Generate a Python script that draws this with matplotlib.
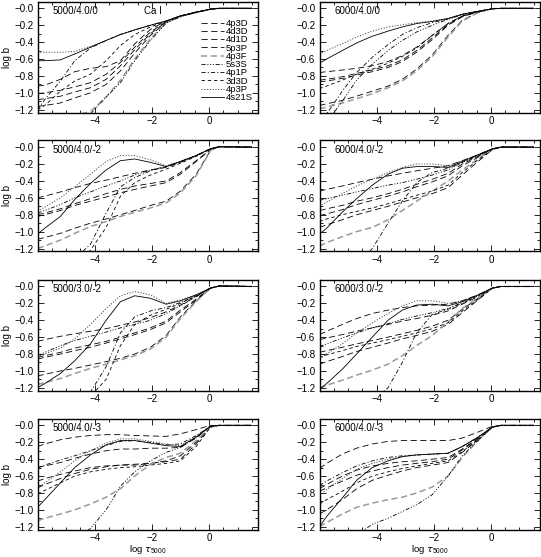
import numpy as np
import matplotlib
matplotlib.use("Agg")
import matplotlib.pyplot as plt
from matplotlib.ticker import MultipleLocator, FuncFormatter

plt.rcParams['font.family'] = ['Liberation Sans', 'DejaVu Sans']
plt.rcParams['mathtext.fontset'] = 'custom'
plt.rcParams['mathtext.rm'] = 'Liberation Sans'
plt.rcParams['mathtext.it'] = 'DejaVu Sans:italic'
plt.rcParams['lines.scale_dashes'] = False

# ── data: log b of Ca I levels vs log tau_5000 ─────────────────────────────
tau = [-6.0, -5.75, -5.2, -4.7, -4.15, -3.6, -3.1, -2.6, -2.05, -1.5, -1.0, -0.45, 0.05, 0.35, 1.5]

levels = ['4p3D', '4d3D', '4d1D', '5p3P', '4p3F', '5s3S', '4p1P', '3d3D', '4p3P', '4s21S']

# rows follow the order of `levels`
b_5000_40_0 = [
    [-0.92, -0.91, -0.84, -0.75, -0.71, -0.69, -0.62, -0.42, -0.25, -0.15, -0.09, -0.045, -0.01, 0, 0],
    [-1.01, -1.00, -0.97, -0.93, -0.88, -0.78, -0.64, -0.46, -0.28, -0.155, -0.09, -0.045, -0.01, 0, 0],
    [-1.08, -1.07, -1.04, -0.99, -0.94, -0.84, -0.68, -0.49, -0.30, -0.16, -0.09, -0.045, -0.01, 0, 0],
    [-1.16, -1.15, -1.12, -1.06, -1.00, -0.90, -0.74, -0.53, -0.32, -0.165, -0.095, -0.045, -0.01, 0, 0],
    [-1.50, -1.45, -1.35, -1.27, -1.22, -1.05, -0.85, -0.60, -0.36, -0.17, -0.095, -0.05, -0.01, 0, 0],
    [-1.80, -1.70, -1.55, -1.40, -1.25, -1.05, -0.88, -0.62, -0.38, -0.175, -0.10, -0.05, -0.01, 0, 0],
    [-1.20, -1.08, -0.86, -0.62, -0.47, -0.38, -0.31, -0.255, -0.20, -0.15, -0.09, -0.045, -0.01, 0, 0],
    [-1.20, -1.15, -0.98, -0.86, -0.78, -0.62, -0.44, -0.31, -0.22, -0.155, -0.09, -0.045, -0.01, 0, 0],
    [-0.52, -0.52, -0.52, -0.51, -0.45, -0.38, -0.31, -0.255, -0.20, -0.15, -0.09, -0.045, -0.01, 0, 0],
    [-0.62, -0.62, -0.61, -0.54, -0.46, -0.38, -0.31, -0.255, -0.20, -0.15, -0.09, -0.045, -0.01, 0, 0],
]

b_6000_40_0 = [
    [-0.76, -0.75, -0.73, -0.71, -0.68, -0.63, -0.56, -0.46, -0.32, -0.18, -0.09, -0.04, -0.005, 0, 0],
    [-0.85, -0.84, -0.81, -0.77, -0.73, -0.68, -0.61, -0.50, -0.35, -0.19, -0.095, -0.04, -0.005, 0, 0],
    [-0.87, -0.86, -0.83, -0.79, -0.75, -0.70, -0.63, -0.52, -0.37, -0.20, -0.10, -0.04, -0.005, 0, 0],
    [-1.15, -1.13, -1.09, -1.04, -0.98, -0.92, -0.84, -0.72, -0.55, -0.32, -0.14, -0.05, -0.005, 0, 0],
    [-1.19, -1.17, -1.12, -1.07, -1.01, -0.94, -0.86, -0.74, -0.57, -0.34, -0.15, -0.05, -0.005, 0, 0],
    [-1.50, -1.35, -1.10, -0.85, -0.66, -0.50, -0.38, -0.28, -0.20, -0.13, -0.075, -0.035, -0.005, 0, 0],
    [-1.40, -1.25, -0.98, -0.76, -0.58, -0.43, -0.31, -0.23, -0.17, -0.125, -0.07, -0.035, -0.005, 0, 0],
    [-0.95, -0.92, -0.85, -0.78, -0.72, -0.65, -0.57, -0.47, -0.32, -0.18, -0.09, -0.04, -0.005, 0, 0],
    [-0.54, -0.50, -0.42, -0.34, -0.27, -0.22, -0.195, -0.17, -0.15, -0.12, -0.07, -0.035, -0.005, 0, 0],
    [-0.65, -0.60, -0.50, -0.41, -0.33, -0.27, -0.22, -0.18, -0.155, -0.12, -0.07, -0.035, -0.005, 0, 0],
]

b_5000_40_m2 = [
    [-0.60, -0.58, -0.53, -0.48, -0.43, -0.39, -0.35, -0.31, -0.27, -0.24, -0.18, -0.10, -0.02, 0.005, 0],
    [-0.80, -0.78, -0.73, -0.67, -0.61, -0.55, -0.50, -0.46, -0.43, -0.40, -0.30, -0.16, -0.03, 0.005, 0],
    [-0.82, -0.80, -0.75, -0.69, -0.64, -0.59, -0.54, -0.50, -0.46, -0.42, -0.32, -0.17, -0.03, 0.005, 0],
    [-1.09, -1.07, -1.02, -0.96, -0.90, -0.85, -0.80, -0.75, -0.69, -0.64, -0.52, -0.32, -0.04, 0.005, 0],
    [-1.20, -1.17, -1.10, -1.02, -0.94, -0.88, -0.82, -0.77, -0.72, -0.66, -0.54, -0.34, -0.04, 0.005, 0],
    [-0.78, -0.75, -0.68, -0.60, -0.53, -0.46, -0.40, -0.33, -0.27, -0.23, -0.17, -0.10, -0.02, 0.005, 0],
    [-1.80, -1.70, -1.50, -1.32, -1.15, -0.78, -0.47, -0.36, -0.28, -0.23, -0.17, -0.10, -0.02, 0.005, 0],
    [-1.90, -1.80, -1.60, -1.40, -1.22, -0.95, -0.58, -0.42, -0.33, -0.26, -0.19, -0.11, -0.02, 0.005, 0],
    [-0.76, -0.71, -0.60, -0.47, -0.32, -0.17, -0.10, -0.10, -0.15, -0.22, -0.17, -0.10, -0.02, 0.01, 0],
    [-1.03, -0.96, -0.82, -0.62, -0.43, -0.27, -0.16, -0.14, -0.18, -0.23, -0.17, -0.10, -0.02, 0.005, 0],
]

b_6000_40_m2 = [
    [-0.52, -0.50, -0.46, -0.42, -0.38, -0.34, -0.31, -0.28, -0.25, -0.22, -0.16, -0.09, -0.02, 0, 0],
    [-0.75, -0.73, -0.69, -0.64, -0.60, -0.55, -0.50, -0.44, -0.38, -0.31, -0.20, -0.11, -0.02, 0, 0],
    [-0.81, -0.79, -0.74, -0.68, -0.63, -0.58, -0.53, -0.47, -0.41, -0.34, -0.22, -0.12, -0.02, 0, 0],
    [-0.95, -0.92, -0.86, -0.80, -0.75, -0.70, -0.65, -0.60, -0.55, -0.48, -0.33, -0.17, -0.03, 0, 0],
    [-1.17, -1.13, -1.06, -1.00, -0.95, -0.86, -0.75, -0.64, -0.52, -0.40, -0.27, -0.14, -0.02, 0, 0],
    [-0.63, -0.61, -0.57, -0.53, -0.49, -0.45, -0.42, -0.38, -0.33, -0.27, -0.18, -0.10, -0.02, 0, 0],
    [-1.90, -1.80, -1.60, -1.40, -1.20, -0.90, -0.64, -0.42, -0.30, -0.25, -0.18, -0.10, -0.02, 0, 0],
    [-0.88, -0.85, -0.80, -0.76, -0.72, -0.67, -0.62, -0.57, -0.52, -0.45, -0.30, -0.15, -0.03, 0, 0],
    [-0.70, -0.65, -0.55, -0.46, -0.38, -0.30, -0.24, -0.20, -0.20, -0.22, -0.16, -0.09, -0.02, 0, 0],
    [-1.03, -0.96, -0.77, -0.61, -0.45, -0.32, -0.25, -0.23, -0.23, -0.24, -0.17, -0.09, -0.02, 0, 0],
]

b_5000_30_m2 = [
    [-0.65, -0.63, -0.59, -0.56, -0.53, -0.50, -0.46, -0.42, -0.37, -0.30, -0.22, -0.12, -0.02, 0.005, 0],
    [-0.84, -0.82, -0.78, -0.73, -0.69, -0.65, -0.60, -0.55, -0.49, -0.41, -0.28, -0.15, -0.02, 0.005, 0],
    [-0.86, -0.84, -0.80, -0.76, -0.72, -0.67, -0.62, -0.57, -0.51, -0.43, -0.30, -0.16, -0.02, 0.005, 0],
    [-1.06, -1.04, -1.00, -0.97, -0.93, -0.89, -0.85, -0.80, -0.72, -0.58, -0.36, -0.17, -0.02, 0.005, 0],
    [-1.16, -1.14, -1.09, -1.03, -0.97, -0.92, -0.87, -0.82, -0.74, -0.60, -0.38, -0.18, -0.02, 0.005, 0],
    [-0.82, -0.78, -0.70, -0.64, -0.59, -0.54, -0.49, -0.45, -0.40, -0.32, -0.23, -0.12, -0.02, 0.005, 0],
    [-1.90, -1.80, -1.60, -1.40, -1.25, -0.95, -0.55, -0.36, -0.29, -0.25, -0.19, -0.11, -0.02, 0.005, 0],
    [-2.00, -1.90, -1.70, -1.50, -1.30, -1.10, -0.70, -0.45, -0.34, -0.27, -0.20, -0.11, -0.02, 0.005, 0],
    [-0.83, -0.80, -0.73, -0.62, -0.45, -0.26, -0.11, -0.06, -0.10, -0.20, -0.16, -0.10, -0.02, 0.005, 0],
    [-1.20, -1.15, -1.03, -0.88, -0.68, -0.40, -0.18, -0.11, -0.14, -0.21, -0.17, -0.10, -0.02, 0.005, 0],
]

b_6000_30_m2 = [
    [-0.57, -0.53, -0.45, -0.38, -0.32, -0.28, -0.25, -0.23, -0.22, -0.21, -0.17, -0.10, -0.02, 0, 0],
    [-0.63, -0.61, -0.57, -0.53, -0.49, -0.45, -0.41, -0.38, -0.34, -0.29, -0.21, -0.12, -0.02, 0, 0],
    [-0.78, -0.76, -0.72, -0.68, -0.64, -0.60, -0.56, -0.52, -0.47, -0.40, -0.27, -0.14, -0.02, 0, 0],
    [-0.92, -0.89, -0.83, -0.77, -0.72, -0.67, -0.62, -0.58, -0.53, -0.45, -0.31, -0.16, -0.02, 0, 0],
    [-1.20, -1.17, -1.11, -1.05, -0.99, -0.92, -0.82, -0.70, -0.58, -0.42, -0.26, -0.13, -0.02, 0, 0],
    [-0.71, -0.68, -0.61, -0.55, -0.49, -0.44, -0.39, -0.35, -0.31, -0.26, -0.19, -0.11, -0.02, 0, 0],
    [-2.00, -1.90, -1.70, -1.50, -1.35, -1.20, -0.90, -0.55, -0.33, -0.27, -0.20, -0.11, -0.02, 0, 0],
    [-0.84, -0.81, -0.76, -0.71, -0.67, -0.63, -0.59, -0.55, -0.50, -0.43, -0.29, -0.15, -0.02, 0, 0],
    [-0.86, -0.80, -0.68, -0.55, -0.43, -0.32, -0.23, -0.17, -0.17, -0.20, -0.17, -0.10, -0.02, 0, 0],
    [-1.22, -1.15, -0.98, -0.80, -0.60, -0.40, -0.28, -0.22, -0.21, -0.23, -0.18, -0.10, -0.02, 0, 0],
]

b_5000_40_m3 = [
    [-0.25, -0.22, -0.17, -0.14, -0.12, -0.11, -0.11, -0.12, -0.125, -0.13, -0.10, -0.05, 0, 0, 0],
    [-0.50, -0.48, -0.44, -0.39, -0.34, -0.30, -0.28, -0.28, -0.27, -0.27, -0.26, -0.15, -0.01, 0, 0],
    [-0.66, -0.63, -0.58, -0.54, -0.50, -0.48, -0.47, -0.46, -0.45, -0.43, -0.40, -0.22, -0.02, 0, 0],
    [-0.74, -0.70, -0.63, -0.57, -0.52, -0.49, -0.47, -0.47, -0.45, -0.42, -0.36, -0.20, -0.02, 0, 0],
    [-1.13, -1.10, -1.05, -1.00, -0.93, -0.85, -0.75, -0.60, -0.46, -0.38, -0.33, -0.18, -0.02, 0, 0],
    [-1.80, -1.70, -1.50, -1.35, -1.22, -1.00, -0.72, -0.55, -0.42, -0.32, -0.26, -0.14, -0.01, 0, 0],
    [-0.50, -0.47, -0.41, -0.36, -0.30, -0.24, -0.19, -0.18, -0.20, -0.23, -0.22, -0.12, -0.01, 0, 0],
    [-0.81, -0.77, -0.68, -0.60, -0.55, -0.52, -0.50, -0.49, -0.47, -0.45, -0.42, -0.25, -0.02, 0, 0],
    [-0.75, -0.68, -0.55, -0.42, -0.30, -0.21, -0.16, -0.16, -0.19, -0.22, -0.24, -0.13, -0.01, 0, 0],
    [-0.97, -0.88, -0.68, -0.50, -0.35, -0.23, -0.18, -0.18, -0.21, -0.24, -0.25, -0.14, -0.01, 0, 0],
]

b_6000_40_m3 = [
    [-0.51, -0.45, -0.34, -0.27, -0.22, -0.19, -0.18, -0.18, -0.18, -0.18, -0.15, -0.08, -0.01, 0, 0],
    [-0.75, -0.70, -0.60, -0.53, -0.48, -0.45, -0.43, -0.42, -0.40, -0.38, -0.28, -0.15, -0.02, 0, 0],
    [-0.78, -0.74, -0.66, -0.59, -0.54, -0.50, -0.47, -0.45, -0.43, -0.40, -0.29, -0.16, -0.02, 0, 0],
    [-1.05, -1.00, -0.88, -0.75, -0.65, -0.59, -0.54, -0.50, -0.47, -0.44, -0.32, -0.17, -0.02, 0, 0],
    [-1.20, -1.15, -1.05, -0.97, -0.92, -0.88, -0.85, -0.80, -0.73, -0.60, -0.38, -0.18, -0.02, 0, 0],
    [-1.90, -1.75, -1.50, -1.30, -1.17, -1.10, -1.02, -0.94, -0.82, -0.60, -0.36, -0.18, -0.02, 0, 0],
    [-0.71, -0.66, -0.56, -0.48, -0.42, -0.38, -0.36, -0.35, -0.34, -0.33, -0.25, -0.14, -0.02, 0, 0],
    [-0.93, -0.88, -0.78, -0.68, -0.60, -0.55, -0.51, -0.48, -0.45, -0.42, -0.31, -0.17, -0.02, 0, 0],
    [-0.83, -0.76, -0.63, -0.52, -0.45, -0.40, -0.37, -0.35, -0.34, -0.33, -0.25, -0.14, -0.02, 0, 0],
    [-1.20, -1.08, -0.86, -0.65, -0.50, -0.42, -0.37, -0.35, -0.34, -0.33, -0.25, -0.14, -0.02, 0, 0],
]

panel_names = ['5000/4.0/0', '6000/4.0/0', '5000/4.0/-2', '6000/4.0/-2',
               '5000/3.0/-2', '6000/3.0/-2', '5000/4.0/-3', '6000/4.0/-3']
panel_data = [b_5000_40_0, b_6000_40_0, b_5000_40_m2, b_6000_40_m2,
              b_5000_30_m2, b_6000_30_m2, b_5000_40_m3, b_6000_40_m3]

# ── line styles per level ─────────────────────────────────────────────────
long_dash = (0, (4.5, 2.5))
styles = {
    '4p3D':  dict(color='black', lw=0.6, ls=long_dash),
    '4d3D':  dict(color='black', lw=0.6, ls=long_dash),
    '4d1D':  dict(color='black', lw=0.6, ls=long_dash),
    '5p3P':  dict(color='black', lw=0.6, ls=long_dash),
    '4p3F':  dict(color='#9a9a9a', lw=1.1, ls=long_dash),
    '5s3S':  dict(color='black', lw=0.6, ls=(0, (3, 1.2, 0.8, 1.2, 0.8, 1.2, 0.8, 1.2))),
    '4p1P':  dict(color='black', lw=0.6, ls=(0, (3, 1.5, 0.8, 1.5))),
    '3d3D':  dict(color='black', lw=0.6, ls=(0, (2.5, 2))),
    '4p3P':  dict(color='#444444', lw=0.7, ls=(0, (0.8, 1.2))),
    '4s21S': dict(color='black', lw=0.6, ls='-'),
}

# ── figure layout ─────────────────────────────────────────────────────────
fig = plt.figure(figsize=(5.41, 5.57), dpi=100)
col_left = [0.0705, 0.5915]
col_width = [0.4067, 0.4067]
row_bottom = [0.7977, 0.5485, 0.2984, 0.0490]
row_height = 0.1993

minus_fmt = FuncFormatter(lambda v, _: '\u2212%.1f' % abs(v))

for p, (name, data) in enumerate(zip(panel_names, panel_data)):
    r, c = divmod(p, 2)
    ax = fig.add_axes([col_left[c], row_bottom[r], col_width[c], row_height])
    for lev, vals in zip(levels, data):
        ax.plot(tau, vals, label=lev, **styles[lev])

    ax.set_xlim(-5.98, 1.72)
    ax.set_ylim(-1.235, 0.079)
    ax.xaxis.set_major_locator(MultipleLocator(2))
    ax.xaxis.set_minor_locator(MultipleLocator(0.5))
    ax.yaxis.set_major_locator(MultipleLocator(0.2))
    ax.yaxis.set_minor_locator(MultipleLocator(0.1))
    ax.yaxis.set_major_formatter(minus_fmt)
    ax.tick_params(which='both', direction='in', top=True, right=True, labelsize=7, width=0.6)
    ax.tick_params(which='major', length=4, pad=3.5)
    ax.tick_params(axis='x', which='major', pad=2.5)
    ax.tick_params(which='minor', length=2)
    for s in ax.spines.values():
        s.set_linewidth(1.0)

    ax.text(0.067, 0.96, name, transform=ax.transAxes, fontsize=7, va='top', ha='left')
    if c == 0:
        ax.set_ylabel('log b', fontsize=7, labelpad=1.5)
    if r == 3:
        ax.set_xlabel(r'log $\tau_{5000}$', fontsize=6.8, labelpad=0)
    if p == 0:
        ax.text(0.48, 0.96, 'Ca I', transform=ax.transAxes, fontsize=7, va='top', ha='left')
        ax.legend(loc='upper right', bbox_to_anchor=(0.975, 0.845), frameon=False,
                  fontsize=6.8, handlelength=2.4, handletextpad=0.15,
                  labelspacing=-0.08, borderaxespad=0.0, borderpad=0.0)

fig.savefig('out.png', dpi=100)
